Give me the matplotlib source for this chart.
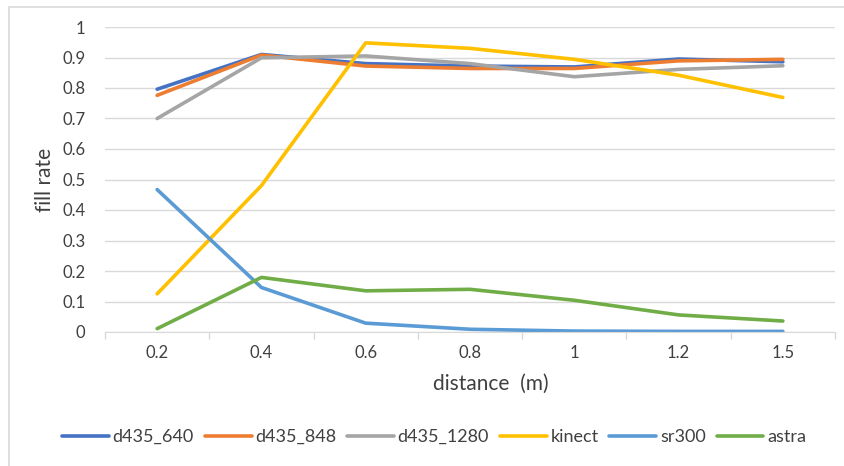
import matplotlib.pyplot as plt
import numpy as np
from matplotlib.patches import Rectangle

plt.rcParams['font.family'] = ['Lato', 'DejaVu Sans']

distances = ["0.2", "0.4", "0.6", "0.8", "1", "1.2", "1.5"]
d435_640 = [0.796, 0.910, 0.880, 0.872, 0.869, 0.895, 0.886]
d435_848 = [0.776, 0.908, 0.872, 0.864, 0.864, 0.889, 0.894]
d435_1280 = [0.700, 0.899, 0.905, 0.880, 0.837, 0.861, 0.873]
kinect = [0.125, 0.480, 0.948, 0.930, 0.894, 0.842, 0.769]
sr300 = [0.467, 0.146, 0.029, 0.009, 0.003, 0.002, 0.002]
astra = [0.011, 0.179, 0.135, 0.140, 0.104, 0.056, 0.036]

series = [("d435_640", d435_640, "#4472C4"),
          ("d435_848", d435_848, "#ED7D31"),
          ("d435_1280", d435_1280, "#A5A5A5"),
          ("kinect", kinect, "#FFC000"),
          ("sr300", sr300, "#5B9BD5"),
          ("astra", astra, "#70AD47")]

fig = plt.figure(figsize=(8.45, 4.66), dpi=100)
ax = fig.add_axes([105/845, 1-332/466, 730/845, 305/466])

x = np.arange(len(distances))
for name, vals, col in series:
    ax.plot(x, vals, color=col, lw=2.6, label=name, solid_capstyle='round')

ax.set_xlim(-0.5, len(distances)-0.5)
ax.set_ylim(0, 1)
ax.set_yticks(np.arange(0, 1.01, 0.1))
ax.set_yticklabels(["0", "0.1", "0.2", "0.3", "0.4", "0.5", "0.6", "0.7", "0.8", "0.9", "1"])
ax.yaxis.grid(True, color="#D9D9D9", lw=1)
ax.set_axisbelow(True)
ax.tick_params(axis='y', length=0, pad=14, labelsize=12, labelcolor="#404040")

# boundaries get the tick marks, category centres get the labels
ax.set_xticks(np.arange(-0.5, len(distances)), minor=False)
ax.set_xticklabels([])
ax.set_xticks(x, minor=True)
ax.set_xticklabels(distances, minor=True)
ax.tick_params(axis='x', which='major', length=5, color="#D9D9D9", width=1)
ax.tick_params(axis='x', which='minor', length=0, pad=9, labelsize=12, labelcolor="#404040")

for s in ["top", "right", "left"]:
    ax.spines[s].set_visible(False)
ax.spines["bottom"].set_color("#D9D9D9")

ax.set_ylabel("fill rate", fontsize=15, color="#404040", labelpad=5)
ax.set_xlabel("distance  (m)", fontsize=15, color="#404040")
ax.xaxis.set_label_coords(0.529, -0.138)

fig.legend(loc='center', bbox_to_anchor=(434/845, 1-437/466), ncol=6, frameon=False,
           fontsize=13, handlelength=2.6, handletextpad=0.2, columnspacing=0.6,
           labelcolor="#404040")

fig.patches.append(Rectangle((9/845, -0.1), 1.0, 1-7/466+0.1, transform=fig.transFigure,
                             fill=False, edgecolor="#D9D9D9", lw=1.2))

fig.savefig("out.png", dpi=100)
